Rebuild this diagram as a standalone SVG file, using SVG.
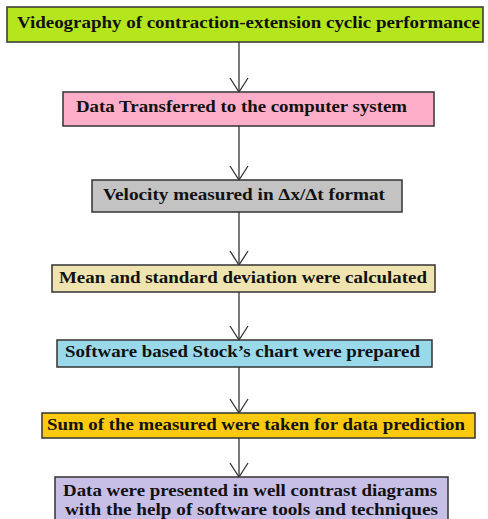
<svg xmlns="http://www.w3.org/2000/svg" width="488" height="519" viewBox="0 0 488 519">
<style>
.box{stroke:#333;stroke-width:1.5}
.t{font-family:"Liberation Serif","Times New Roman",serif;font-weight:bold;font-size:16px;fill:#111}
.c{stroke:#333;stroke-width:1.3;fill:none}
</style>
<defs>
<marker id="ah" viewBox="0 0 16 20" refX="15" refY="10" markerWidth="16" markerHeight="20" markerUnits="userSpaceOnUse" orient="auto">
<path d="M1,1 L15,10 L1,19" fill="none" stroke="#333" stroke-width="1.3"/>
</marker>
</defs>
<rect width="488" height="519" fill="#fff"/>
<g id="connectors">
<line class="c" x1="239" y1="42" x2="239" y2="92" marker-end="url(#ah)"/>
<line class="c" x1="239" y1="126" x2="239" y2="180" marker-end="url(#ah)"/>
<line class="c" x1="239" y1="212" x2="239" y2="265" marker-end="url(#ah)"/>
<line class="c" x1="239" y1="292" x2="239" y2="340" marker-end="url(#ah)"/>
<line class="c" x1="239" y1="367" x2="239" y2="413" marker-end="url(#ah)"/>
<line class="c" x1="239" y1="438" x2="239" y2="477" marker-end="url(#ah)"/>
</g>
<g id="n1">
<rect class="box" x="7" y="7" width="476" height="35" fill="#b5e61d"/>
<text class="t" x="17" y="28" textLength="463" lengthAdjust="spacingAndGlyphs">Videography of contraction-extension cyclic performance</text>
</g>
<g id="n2">
<rect class="box" x="63" y="92" width="371" height="34" fill="#ffaec9"/>
<text class="t" x="76" y="112" textLength="331" lengthAdjust="spacingAndGlyphs">Data Transferred to the computer system</text>
</g>
<g id="n3">
<rect class="box" x="92" y="180" width="310" height="32" fill="#c3c3c3"/>
<text class="t" x="103" y="200" textLength="282" lengthAdjust="spacingAndGlyphs">Velocity measured in Δx/Δt format</text>
</g>
<g id="n4">
<rect class="box" x="52" y="265" width="383" height="27" fill="#efe4b0"/>
<text class="t" x="59" y="283" textLength="368" lengthAdjust="spacingAndGlyphs">Mean and standard deviation were calculated</text>
</g>
<g id="n5">
<rect class="box" x="57" y="340" width="375" height="27" fill="#99d9ea"/>
<text class="t" x="65" y="357" textLength="355" lengthAdjust="spacingAndGlyphs">Software based Stock’s chart were prepared</text>
</g>
<g id="n6">
<rect class="box" x="42" y="413" width="433" height="25" fill="#ffc90e"/>
<text class="t" x="47" y="430" textLength="418" lengthAdjust="spacingAndGlyphs">Sum of the measured were taken for data prediction</text>
</g>
<g id="n7">
<rect class="box" x="55" y="477" width="393" height="50" fill="#c8bfe7"/>
<text class="t" x="63" y="496" textLength="374" lengthAdjust="spacingAndGlyphs">Data were presented in well contrast diagrams</text>
<text class="t" x="65" y="515" textLength="373" lengthAdjust="spacingAndGlyphs">with the help of software tools and techniques</text>
</g>
</svg>
